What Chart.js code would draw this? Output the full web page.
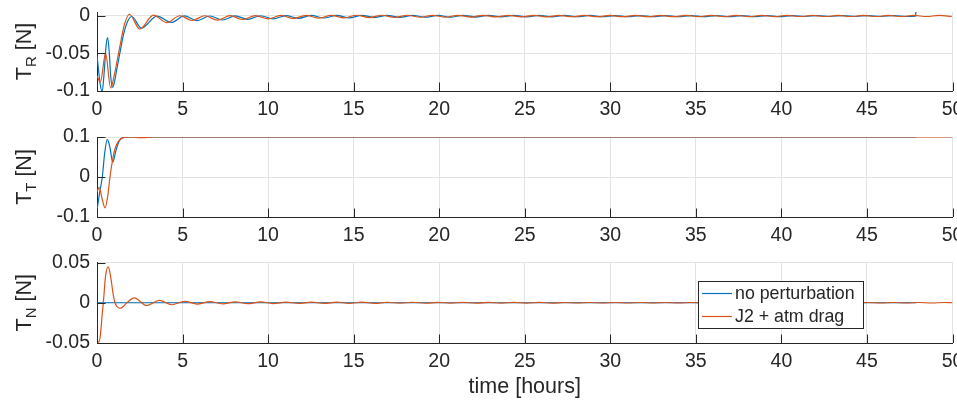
<!DOCTYPE html>
<html>
<head>
<meta charset="utf-8">
<title>Thrust components</title>
<script src="https://cdn.jsdelivr.net/npm/chart.js@4.4.1/dist/chart.umd.min.js"></script>
<style>
  html, body { margin: 0; padding: 0; background: #fff; overflow: hidden; }
  #wrap { position: relative; width: 957px; height: 400px; overflow: hidden; }
  #wrap canvas { position: absolute; left: 0; top: 0; }
</style>
</head>
<body>
<div id="wrap">
  <canvas id="chartR" width="980" height="400"></canvas>
  <canvas id="chartT" width="980" height="400"></canvas>
  <canvas id="chartN" width="980" height="400"></canvas>
</div>
<script>
// ==============================
// DATA
// ==============================
const seriesNames = ['no perturbation', 'J2 + atm drag'];

const xTicks = [0, 5, 10, 15, 20, 25, 30, 35, 40, 45, 50];
const rTicks = [-0.1, -0.05, 0];
const tTicks = [-0.1, 0, 0.1];
const nTicks = [-0.05, 0, 0.05];

// T_R, no perturbation
const rBlueHours = [0, 0.08, 0.18, 0.3, 0.42, 0.53, 0.62, 0.72, 0.8, 0.9, 1.0, 1.15, 1.35, 1.55, 1.8, 2.03, 2.6, 3.5, 4.35, 5.1, 5.85,
  6.6, 7.34, 8.08, 8.82, 9.56, 10.3, 11.04, 11.78, 12.52, 13.26, 14.0, 14.74, 15.48, 16.22, 16.96, 17.7, 18.44, 19.18, 19.92, 20.66,
  21.4, 22.14, 22.88, 23.62, 24.36, 25.1, 25.84, 26.58, 27.32, 28.06, 28.8, 29.54, 30.28, 31.02, 31.76, 32.5, 33.24, 33.98, 34.72,
  35.46, 36.2, 36.94, 37.68, 38.42, 39.16, 39.9, 40.64, 41.38, 42.12, 42.86, 43.6, 44.34, 45.08, 45.82, 46.56, 47.3, 47.84, 47.86];
const rBlue = [-0.053, -0.07, -0.09, -0.101, -0.075, -0.04, -0.029, -0.05, -0.08, -0.095, -0.09, -0.072, -0.048, -0.025, -0.007, -0.001, -0.0165, -0.0005, -0.0088, -0.0002, -0.0065,
  -0.0003, -0.0056, -0.0002, -0.0048, 0.0, -0.0041, 0.0002, -0.0035, 0.0004, -0.003, 0.0005, -0.0027, 0.0006, -0.0024, 0.0006, -0.0022, 0.0006, -0.002, 0.0005, -0.0018,
  0.0005, -0.0017, 0.0005, -0.0016, 0.0004, -0.0015, 0.0004, -0.0014, 0.0004, -0.0013, 0.0004, -0.0013, 0.0003, -0.0012, 0.0003, -0.0012, 0.0003, -0.0012, 0.0003,
  -0.0011, 0.0003, -0.0011, 0.0003, -0.0011, 0.0003, -0.0011, 0.0003, -0.001, 0.0003, -0.001, 0.0003, -0.001, 0.0003, -0.001, 0.0003, -0.001, -0.0004, 0.005];

// T_R, J2 + atm drag
const rOrangeHours = [0, 0.2, 0.5, 0.8, 1.0, 1.3, 1.6, 1.89, 2.5, 3.3, 4.07, 4.85, 5.55,
  6.3, 7.04, 7.78, 8.52, 9.26, 10.0, 10.74, 11.48, 12.22, 12.96, 13.7, 14.44, 15.18, 15.92, 16.66, 17.4, 18.14, 18.88, 19.62, 20.36,
  21.1, 21.84, 22.58, 23.32, 24.06, 24.8, 25.54, 26.28, 27.02, 27.76, 28.5, 29.24, 29.98, 30.72, 31.46, 32.2, 32.94, 33.68, 34.42,
  35.16, 35.9, 36.64, 37.38, 38.12, 38.86, 39.6, 40.34, 41.08, 41.82, 42.56, 43.3, 44.04, 44.78, 45.52, 46.26, 47.0, 47.74, 48.48,
  49.22, 49.96];
const rOrange = [-0.08, -0.088, -0.05, -0.096, -0.08, -0.045, -0.012, 0.002, -0.0176, 0.0008, -0.009, 0.0, -0.0063,
  0.0, -0.0058, 0.0001, -0.005, 0.0002, -0.0042, 0.0004, -0.0036, 0.0005, -0.0031, 0.0006, -0.0027, 0.0007, -0.0024, 0.0007, -0.0022, 0.0007, -0.002, 0.0006, -0.0018,
  0.0006, -0.0017, 0.0006, -0.0016, 0.0005, -0.0015, 0.0005, -0.0014, 0.0005, -0.0013, 0.0005, -0.0013, 0.0004, -0.0012, 0.0004, -0.0012, 0.0004, -0.0012, 0.0004,
  -0.0011, 0.0004, -0.0011, 0.0004, -0.0011, 0.0004, -0.0011, 0.0004, -0.001, 0.0004, -0.001, 0.0004, -0.001, 0.0004, -0.001, 0.0004, -0.001, 0.0004, -0.001,
  0.0004, -0.001];

// T_T
const tBlueHours = [0, 0.15, 0.31, 0.45, 0.6, 0.75, 0.92, 1.1, 1.3, 1.55, 2.0, 2.6, 3.5, 47.86];
const tBlue = [-0.083, -0.04, 0.0, 0.06, 0.094, 0.075, 0.037, 0.065, 0.09, 0.099, 0.1, 0.099, 0.1, 0.1];
const tOrangeHours = [0, 0.13, 0.3, 0.47, 0.62, 0.76, 0.9, 1.05, 1.3, 1.6, 2.0, 2.6, 3.3, 50];
const tOrange = [-0.037, -0.026, -0.055, -0.077, -0.05, 0.0, 0.04, 0.07, 0.092, 0.099, 0.1, 0.0985, 0.1, 0.1];

// T_N
const nBlueHours = [0, 47.86];
const nBlue = [0, 0];
const nOrangeHours = [0, 0.1, 0.2, 0.3, 0.37, 0.5, 0.66, 0.8, 0.95, 1.05, 1.38, 1.75, 2.18, 2.9, 3.64, 4.37, 5.12, 5.85,
  6.6, 7.34, 8.08, 8.82, 9.56, 10.3, 11.04, 11.78, 12.52, 13.26, 14.0, 14.74, 15.48, 16.22, 16.96, 17.7, 18.44, 19.18, 19.92, 20.66,
  21.4, 22.14, 22.88, 23.62, 24.36, 25.1, 25.84, 26.58, 27.32, 28.06, 28.8, 29.54, 30.28, 31.02, 31.76, 32.5, 33.24, 33.98, 34.72,
  35.46, 36.2, 36.94, 37.68, 38.42, 39.16, 39.9, 40.64, 41.38, 42.12, 42.86, 43.6, 44.34, 45.08, 45.82, 46.56, 47.3, 48.04, 48.78,
  49.52, 50];
const nOrange = [-0.047, -0.049, -0.04, -0.015, 0.0, 0.033, 0.0445, 0.032, 0.01, 0.0, -0.0067, 0.0, 0.006, -0.0034, 0.003, -0.0025, 0.0018, -0.0016,
  0.0013, -0.0013, 0.0011, -0.0011, 0.001, -0.001, 0.0009, -0.0009, 0.0008, -0.0008, 0.0007, -0.0007, 0.0007, -0.0007, 0.0006, -0.0006, 0.0006, -0.0006, 0.0005, -0.0005,
  0.0005, -0.0005, 0.0004, -0.0004, 0.0004, -0.0004, 0.0004, -0.0004, 0.0003, -0.0003, 0.0003, -0.0003, 0.0003, -0.0003, 0.0003, -0.0003, 0.0003, -0.0003, 0.0003,
  -0.0003, 0.0003, -0.0003, 0.0003, -0.0003, 0.0003, -0.0003, 0.0003, -0.0003, 0.0003, -0.0003, 0.0003, -0.0003, 0.0003, -0.0003, 0.0003, -0.0003, 0.0003, -0.0003,
  0.0003, 0];

// ==============================
// STYLE
// ==============================
const BLUE = '#0072BD';
const ORANGE = '#D95319';
const INK = '#262626';
const GRID = '#e3e3e3';
const FONT = '"Liberation Sans", Arial, Helvetica, sans-serif';

const pts = (hours, vals) => hours.map((h, i) => ({ x: h, y: vals[i] }));

// axis lines are drawn by the scale border, tick marks point inwards
const innerTicks = {
  id: 'innerTicks',
  afterDatasetsDraw(chart) {
    const { ctx, chartArea: a, scales: { x, y } } = chart;
    ctx.save();
    ctx.strokeStyle = INK;
    ctx.lineWidth = 1;
    ctx.beginPath();
    x.ticks.forEach(t => {
      const px = Math.round(x.getPixelForValue(t.value)) + 0.5;
      ctx.moveTo(px, a.bottom);
      ctx.lineTo(px, a.bottom - 8.5);
    });
    y.ticks.forEach(t => {
      const py = Math.round(y.getPixelForValue(t.value)) + 0.5;
      ctx.moveTo(a.left, py);
      ctx.lineTo(a.left + 8.5, py);
    });
    ctx.stroke();
    ctx.restore();
  }
};

// rotated y label with a subscript: T_sub [N]
const yTitle = {
  id: 'yTitle',
  afterDraw(chart, args, opts) {
    if (!opts.sub) return;
    const { ctx, chartArea: a } = chart;
    const big = '21.5px ' + FONT, small = '15px ' + FONT;
    ctx.save();
    ctx.fillStyle = INK;
    ctx.textBaseline = 'alphabetic';
    ctx.font = big;
    const wMain = ctx.measureText('T').width;
    const wTail = ctx.measureText(' [N]').width;
    ctx.font = small;
    const wSub = ctx.measureText(opts.sub).width;
    const start = -(wMain + wSub + wTail) / 2;
    ctx.translate(opts.x, (a.top + a.bottom) / 2);
    ctx.rotate(-Math.PI / 2);
    ctx.font = big;
    ctx.fillText('T', start, 0);
    ctx.font = small;
    ctx.fillText(opts.sub, start + wMain, 5);
    ctx.font = big;
    ctx.fillText(' [N]', start + wMain + wSub, 0);
    ctx.restore();
  }
};

// boxed legend sitting inside the lower plot
const boxLegend = {
  id: 'boxLegend',
  afterDraw(chart, args, opts) {
    if (!opts.show) return;
    const { ctx } = chart;
    const { left, top, width, height } = opts;
    ctx.save();
    ctx.fillStyle = '#fff';
    ctx.fillRect(left, top, width, height);
    ctx.strokeStyle = INK;
    ctx.lineWidth = 1;
    ctx.strokeRect(left + 0.5, top + 0.5, width, height);
    ctx.font = '17.8px ' + FONT;
    ctx.textBaseline = 'middle';
    chart.data.datasets.forEach((ds, i) => {
      const y = top + 12.5 + i * 23;
      ctx.strokeStyle = ds.borderColor;
      ctx.lineWidth = 1.2;
      ctx.beginPath();
      ctx.moveTo(left + 4, y);
      ctx.lineTo(left + 34, y);
      ctx.stroke();
      ctx.fillStyle = INK;
      ctx.fillText(ds.label, left + 37, y + 1);
    });
    ctx.restore();
  }
};

function makeChart(id, p) {
  return new Chart(document.getElementById(id), {
    type: 'line',
    data: {
      datasets: [
        { label: seriesNames[0], data: pts(p.blueHours, p.blue), borderColor: BLUE, order: 1 },
        { label: seriesNames[1], data: pts(p.orangeHours, p.orange), borderColor: ORANGE, order: 0 }
      ]
    },
    options: {
      responsive: false,
      animation: false,
      devicePixelRatio: 1,
      layout: { padding: { top: p.top, bottom: p.padBottom, left: 0, right: 27.5 } },
      elements: {
        point: { radius: 0 },
        line: { borderWidth: 1.2, cubicInterpolationMode: 'monotone', fill: false }
      },
      plugins: {
        legend: { display: false },
        tooltip: { enabled: false },
        yTitle: { sub: p.sub, x: 31 },
        boxLegend: p.legend || { show: false }
      },
      scales: {
        x: {
          type: 'linear',
          min: 0,
          max: 50,
          afterBuildTicks: s => { s.ticks = xTicks.map(v => ({ value: v })); },
          afterFit: s => { s.height = p.xHeight; },
          grid: { color: GRID, drawTicks: false },
          border: { color: INK, width: 1 },
          ticks: { color: INK, padding: 7, maxRotation: 0, font: { family: FONT, size: 19.5 }, callback: v => String(v) },
          title: p.xTitle
            ? { display: true, text: 'time [hours]', color: INK, padding: { top: 0, bottom: 0 }, font: { family: FONT, size: 21.5 } }
            : { display: false }
        },
        y: {
          min: p.min,
          max: p.max,
          afterBuildTicks: s => { s.ticks = p.ticks.map(v => ({ value: v })); },
          afterFit: s => { s.width = 97; s.paddingTop = 0; s.paddingBottom = 0; },
          grid: { color: GRID, drawTicks: false },
          border: { color: INK, width: 1 },
          ticks: { color: INK, padding: 7, font: { family: FONT, size: 19.5, lineHeight: 0.6 }, callback: v => String(v) }
        }
      }
    },
    plugins: [innerTicks, yTitle, boxLegend]
  });
}

makeChart('chartR', {
  blueHours: rBlueHours, blue: rBlue, orangeHours: rOrangeHours, orange: rOrange,
  min: -0.1, max: 0.005, ticks: rTicks, sub: 'R',
  top: 12, padBottom: 279, xHeight: 30
});

makeChart('chartT', {
  blueHours: tBlueHours, blue: tBlue, orangeHours: tOrangeHours, orange: tOrange,
  min: -0.1, max: 0.1, ticks: tTicks, sub: 'T',
  top: 137, padBottom: 153, xHeight: 30
});

makeChart('chartN', {
  blueHours: nBlueHours, blue: nBlue, orangeHours: nOrangeHours, orange: nOrange,
  min: -0.05, max: 0.05, ticks: nTicks, sub: 'N',
  top: 262.5, padBottom: 0, xHeight: 57, xTitle: true,
  legend: { show: true, left: 698, top: 281, width: 165, height: 47 }
});
</script>
</body>
</html>
